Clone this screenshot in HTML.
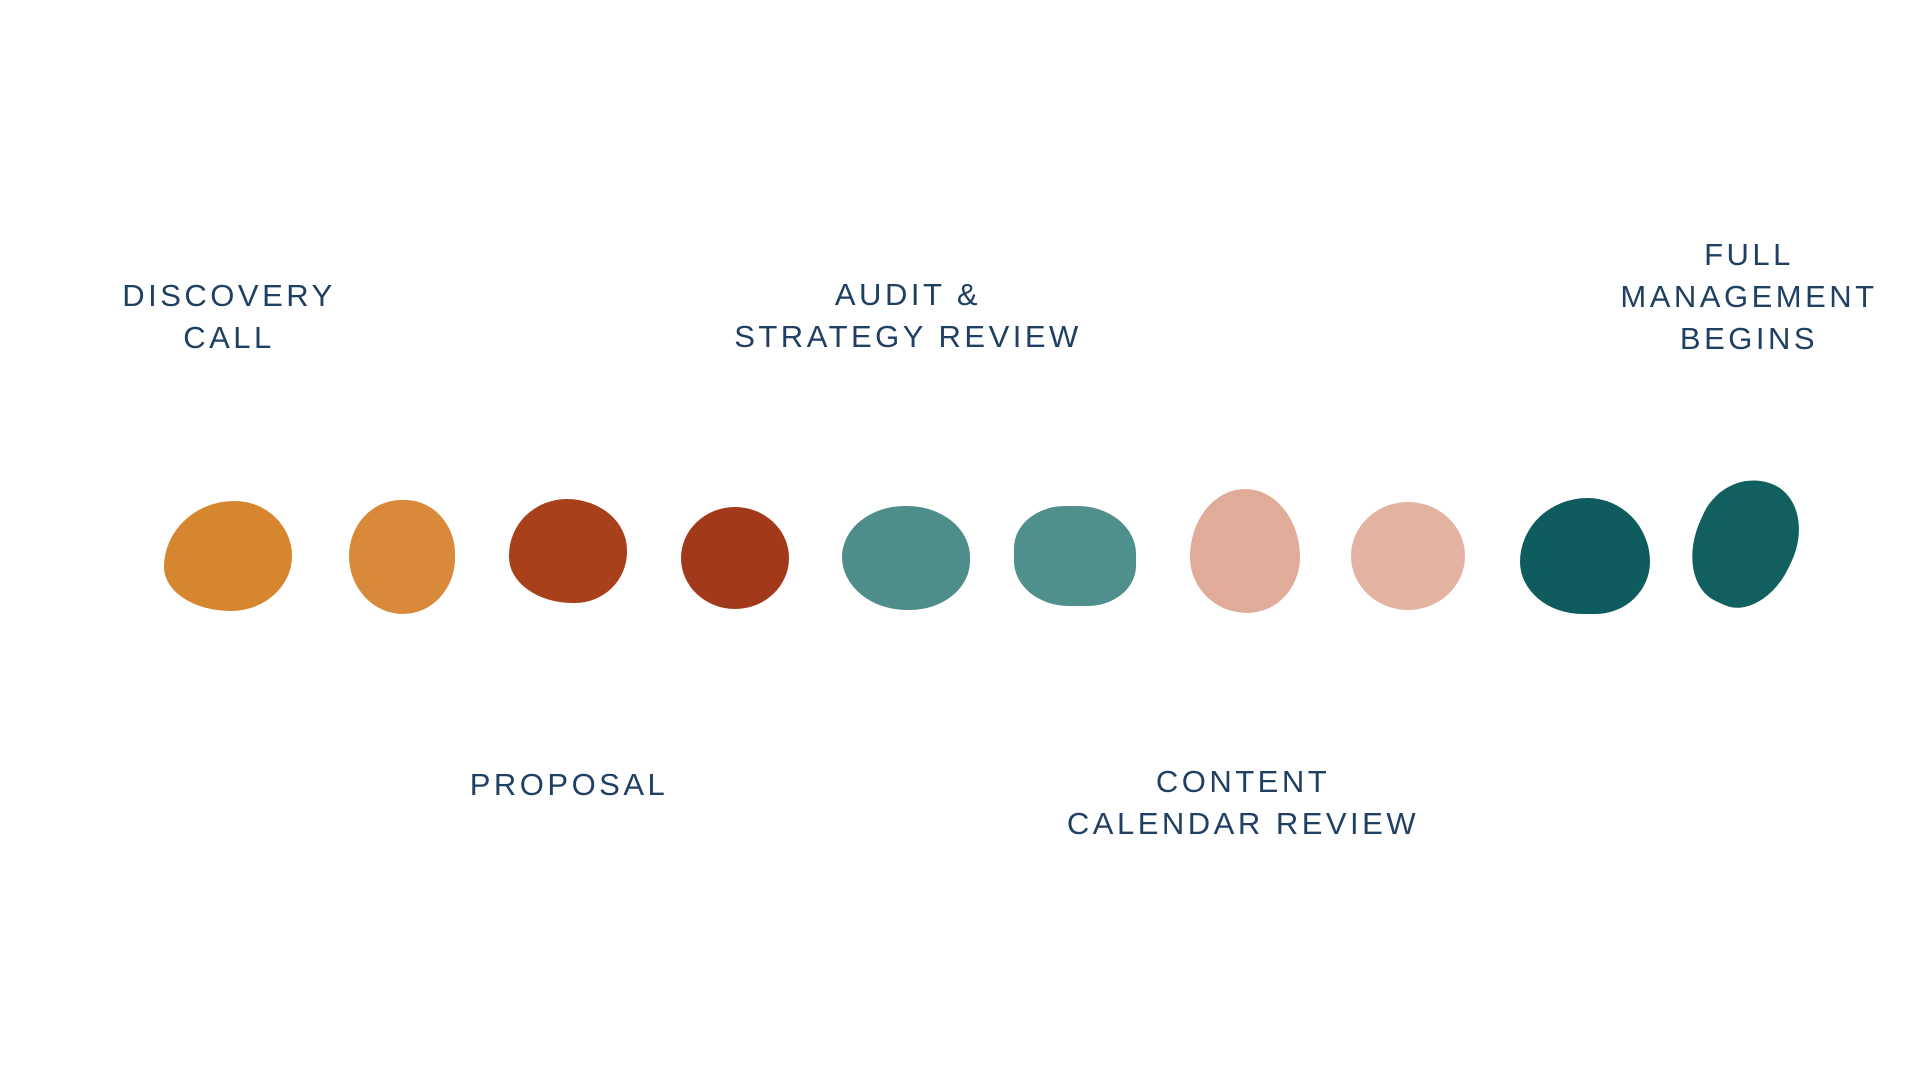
<!DOCTYPE html>
<html><head><meta charset="utf-8"><style>
html,body{margin:0;padding:0;background:#fff;width:1920px;height:1080px;overflow:hidden;position:relative}
.t{position:absolute;font-family:"Liberation Sans",sans-serif;color:#1f3f63;font-size:31px;letter-spacing:3.5px;text-align:center;line-height:42px;transform:translateX(-50%);white-space:nowrap}
.b{position:absolute;transform:translate(-50%,-50%)}
</style></head><body>
<div class="t" style="left:229px;top:275px">DISCOVERY<br>CALL</div>
<div class="t" style="left:908px;top:274px">AUDIT &amp;<br>STRATEGY REVIEW</div>
<div class="t" style="left:1749px;top:234px">FULL<br>MANAGEMENT<br>BEGINS</div>
<div class="t" style="left:569px;top:764px">PROPOSAL</div>
<div class="t" style="left:1243px;top:761px">CONTENT<br>CALENDAR REVIEW</div>

<div class="b" style="left:228px;top:556px;width:128px;height:110px;background:#d5862f;border-radius:55% 45% 48% 52%/60% 50% 50% 40%"></div>
<div class="b" style="left:402px;top:557px;width:106px;height:114px;background:#d8893a;border-radius:50% 48% 50% 52%"></div>
<div class="b" style="left:568px;top:551px;width:118px;height:104px;background:#a8401a;border-radius:50% 52% 45% 55%/55% 50% 50% 45%"></div>
<div class="b" style="left:735px;top:558px;width:108px;height:102px;background:#a3391b;border-radius:50%"></div>
<div class="b" style="left:906px;top:558px;width:128px;height:104px;background:#4f8d8a;border-radius:50% 50% 48% 52%"></div>
<div class="b" style="left:1075px;top:556px;width:122px;height:100px;background:#4f8f8c;border-radius:42% 48% 40% 45%"></div>
<div class="b" style="left:1245px;top:551px;width:110px;height:124px;background:#e0ab98;border-radius:50% 50% 48% 52%/55% 55% 45% 45%"></div>
<div class="b" style="left:1408px;top:556px;width:114px;height:108px;background:#e3b2a0;border-radius:50%"></div>
<div class="b" style="left:1585px;top:556px;width:130px;height:116px;background:#0f5c5e;border-radius:52% 48% 42% 48%/55% 55% 45% 45%"></div>
<div class="b" style="left:1745px;top:543px;width:100px;height:130px;background:#11605f;border-radius:55% 50% 45% 50%/45% 50% 50% 55%;transform:translate(-50%,-50%) rotate(25deg)"></div>
</body></html>
